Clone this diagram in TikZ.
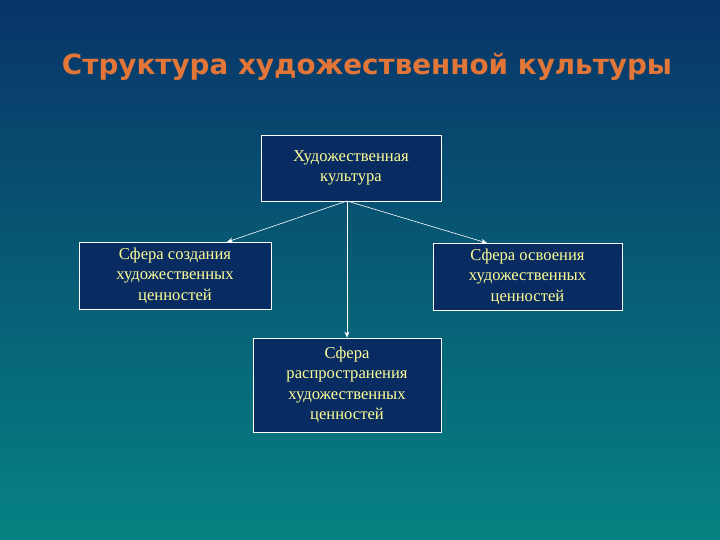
\documentclass[tikz,border=0pt]{standalone}
\usepackage{fontspec}
\setmainfont{Liberation Serif}
\newfontfamily\titlefont{DejaVu Sans}
\usetikzlibrary{arrows.meta}
\definecolor{bgtop}{RGB}{8,52,104}
\definecolor{bgbot}{RGB}{6,130,130}
\definecolor{boxfill}{RGB}{8,44,98}
\definecolor{boxtext}{RGB}{255,255,150}
\definecolor{titlecol}{RGB}{226,118,56}
\begin{document}
\begin{tikzpicture}[x=1pt,y=-1pt,
  boxnode/.style={draw=white, line width=0.8pt, fill=boxfill, text=boxtext,
    font=\fontsize{16.6}{20.5}\selectfont, align=center, inner sep=0pt},
  conn/.style={draw=white, line width=0.6pt, -{Stealth[length=6pt,width=5pt]}}]
\useasboundingbox (0,0) rectangle (720,540);
\shade[top color=bgtop, bottom color=bgbot] (0,0) rectangle (720,540);
\node[text=titlecol, font=\titlefont\bfseries\fontsize{27.8}{32}\selectfont] (title) at (367,67) {Структура художественной культуры};
\node[boxnode, minimum width=180pt, minimum height=66pt] (top) at (351,168) {Художественная\\культура};
\node[boxnode, minimum width=192pt, minimum height=67pt] (left) at (175,275.5) {Сфера создания\\художественных\\ценностей};
\node[boxnode, minimum width=189pt, minimum height=67pt] (right) at (527.5,276.5) {Сфера освоения\\художественных\\ценностей};
\node[boxnode, minimum width=188pt, minimum height=94pt] (bottom) at (347,385) {Сфера\\распространения\\художественных\\ценностей};
\coordinate (hub) at (347,201);
\coordinate (lt) at (227,242);
\coordinate (rt) at (487,243);
\draw[conn] (hub) -- (lt);
\draw[conn] (hub) -- (rt);
\draw[conn] (hub) -- (bottom.north);
\end{tikzpicture}
\end{document}
